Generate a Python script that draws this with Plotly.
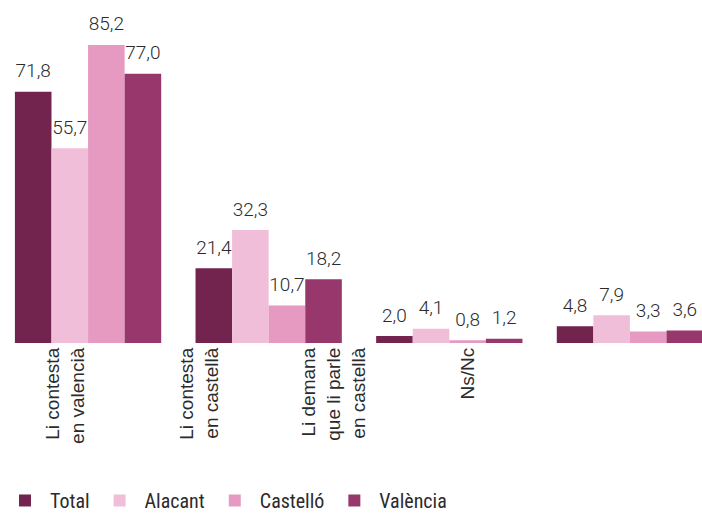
import plotly.graph_objects as go

categories = [
    "Li contesta<br>en valencià",
    "Li contesta<br>en castellà",
    "Li demana<br>que li parle<br>en castellà",
    "Ns/Nc",
]
series_names = ["Total", "Alacant", "Castelló", "València"]
total = [71.8, 21.4, 2.0, 4.8]
alacant = [55.7, 32.3, 4.1, 7.9]
castello = [85.2, 10.7, 0.8, 3.3]
valencia = [77.0, 18.2, 1.2, 3.6]
colors = ["#72244F", "#F0BED8", "#E69AC2", "#98376B"]

label_font = "Roboto Condensed, Liberation Sans Narrow, DejaVu Sans Condensed, Roboto, sans-serif"
series = [total, alacant, castello, valencia]

fig = go.Figure()
for name, values, color in zip(series_names, series, colors):
    fig.add_trace(go.Bar(
        x=categories,
        y=values,
        name=name,
        offsetgroup=name,
        marker_color=color,
        marker_line_width=0,
        hoverinfo="y",
    ))

# value labels: transparent markers so the text sits a bit above each bar
for name, values in zip(series_names, series):
    fig.add_trace(go.Scatter(
        x=categories,
        y=values,
        offsetgroup=name,
        mode="markers+text",
        marker=dict(size=14, opacity=0),
        text=[f"{v:.1f}".replace(".", ",") for v in values],
        textposition="top center",
        textfont=dict(family="Roboto, sans-serif", size=19, color="#2b2b2b", weight=300),
        cliponaxis=False,
        showlegend=False,
        hoverinfo="skip",
    ))

# invisible trace that carries the category labels on their own axis
fig.add_trace(go.Scatter(
    x=categories,
    y=[None] * len(categories),
    xaxis="x2",
    showlegend=False,
    hoverinfo="skip",
    mode="markers",
))

fig.update_layout(
    width=702,
    height=520,
    barmode="group",
    bargap=0.19,
    bargroupgap=0,
    scattermode="group",
    scattergap=0.19,
    separators=",.",
    plot_bgcolor="white",
    paper_bgcolor="white",
    margin=dict(l=0, r=0, t=0, b=177),
    xaxis=dict(
        type="category",
        range=[-0.4875, 3.399],
        showticklabels=False,
        showgrid=False,
        zeroline=False,
        showline=False,
        ticks="",
    ),
    xaxis2=dict(
        type="category",
        overlaying="x",
        anchor="y",
        side="bottom",
        categoryorder="array",
        categoryarray=categories,
        range=[-0.49, 4.749],
        showgrid=False,
        zeroline=False,
        showline=False,
        ticks="",
        tickangle=-90,
        tickfont=dict(family="Liberation Sans, Arial, sans-serif", size=19, color="#2b2b2b"),
    ),
    yaxis=dict(
        range=[0, 98.05],
        visible=False,
        showgrid=False,
        zeroline=False,
    ),
    legend=dict(
        orientation="h",
        x=0,
        xanchor="left",
        y=-0.516,
        yanchor="bottom",
        itemwidth=40,
        font=dict(family=label_font, size=20, color="#2b2b2b"),
        itemclick=False,
    ),
)

fig.write_html(
    "out.html",
    config={"displayModeBar": False},
    post_script="document.body.style.margin='0';",
)
